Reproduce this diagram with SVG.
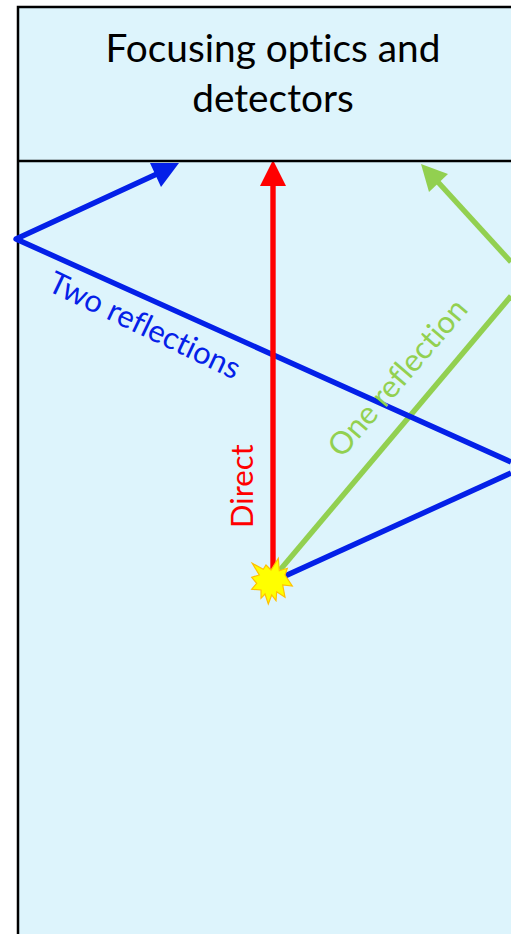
<svg xmlns="http://www.w3.org/2000/svg" width="511" height="934" viewBox="0 0 511 934">
<style>
.t{font-family:Lato,"Open Sans","Liberation Sans",sans-serif;font-variant-ligatures:none}
.ray{fill:none;stroke-width:5.4;stroke-linejoin:round}
.b{stroke:#0420E8}.g{stroke:#92D050}.r{stroke:#FF0000}
.box{fill:#DDF4FC;stroke:#000;stroke-width:2.5}
</style>
<rect width="511" height="934" fill="#fff"/>
<g id="chamber"><rect class="box" x="18" y="7" width="500" height="940"/></g>
<g id="optics">
<text class="t" x="273" y="62" font-size="38.8" text-anchor="middle" fill="#000">Focusing optics and</text>
<text class="t" x="273" y="112" font-size="38.8" text-anchor="middle" fill="#000">detectors</text>
</g>
<g id="connectors">
<polyline class="ray g" points="280,570 511,296"/>
<line class="ray g" x1="511" y1="262" x2="437" y2="181"/>
<polygon points="421,164 448,174 429,192" fill="#92D050"/>
<polyline class="ray b" points="285,576 511,473"/>
<polyline class="ray b" points="511,462 16,239 159,173"/>
<polygon points="150,163 179,163 161,187" fill="#0420E8"/>
<line class="ray r" x1="273" y1="572" x2="273" y2="184"/>
<polygon points="273,160 286,186 260,186" fill="#FF0000"/>
</g>
<g id="divider"><line x1="18" y1="161" x2="511" y2="161" stroke="#000" stroke-width="2.5"/></g>
<g id="label-two"><text class="t" transform="translate(46,290) rotate(25.5)" font-size="31" fill="#0420E8">Two reflections</text></g>
<g id="label-one"><text class="t" transform="translate(342,459) rotate(-49.5)" font-size="31" fill="#92D050">One reflection</text></g>
<g id="label-direct"><text class="t" transform="translate(253,528) rotate(-90)" font-size="31" fill="#FF0000">Direct</text></g>
<g id="source"><polygon points="252.3,563.3 263.3,569.3 266,565 271,570 278.3,558.3 279.3,570.7 287.3,568.3 285,575 292.3,586 282.7,585 285,597.3 276.7,591.7 276,600.7 271.7,595 268.3,604 265,594 261,598.3 261,590 251.7,589.3 256.7,583.3 251.7,577.3 259.3,575" fill="#FFFF00" stroke="#FFC000" stroke-width="1.2"/></g>
</svg>
